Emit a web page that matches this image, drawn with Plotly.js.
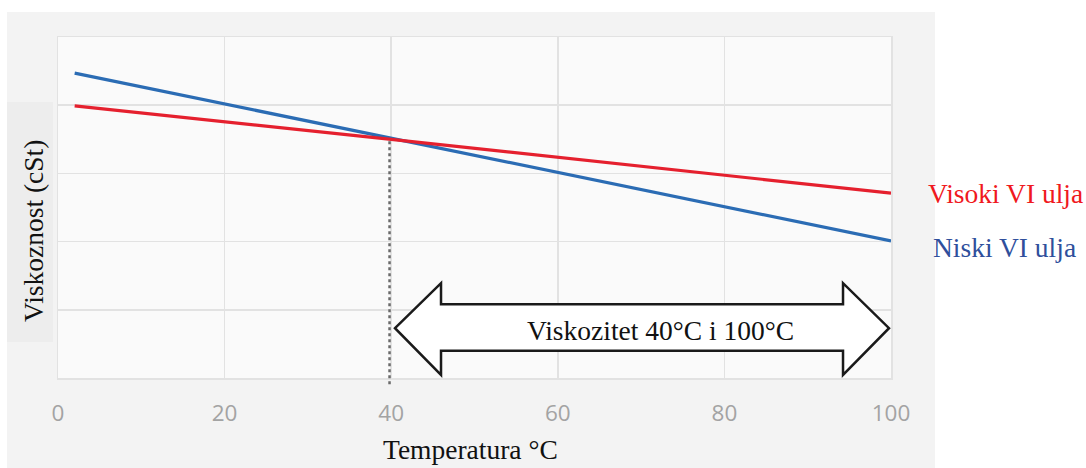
<!DOCTYPE html>
<html>
<head>
<meta charset="utf-8">
<script src="https://cdn.plot.ly/plotly-3.0.1.min.js"></script>
<style>html,body{margin:0;padding:0;background:#fff;}#chart{width:1086px;height:468px;}</style>
</head>
<body>
<div id="chart"></div>
<script>
// Data (y scale is arbitrary — no labels in source)
const temperature = [2, 40, 100];
const visokiVI = [3.99, 3.50, 2.71];   // high VI oil (red)
const niskiVI  = [4.47, 3.52, 2.01];   // low VI oil (blue)
const xTicks = [0, 20, 40, 60, 80, 100];
const xTickLabels = ['0', '20', '40', '60', '80', '100'];
const crossTemp = 40;
const crossVisc = 3.5;
const rangeLabel = 'Viskozitet 40°C i 100°C';
const seriesNames = ['Visoki VI ulja', 'Niski VI ulja'];

const serif = 'Liberation Serif, Times New Roman, serif';

const traces = [
  {x: temperature, y: niskiVI, mode: 'lines', name: seriesNames[1],
   line: {color: '#2b6cb4', width: 3.2}, hoverinfo: 'skip'},
  {x: temperature, y: visokiVI, mode: 'lines', name: seriesNames[0],
   line: {color: '#e5202e', width: 3.2}, hoverinfo: 'skip'}
];

// block double arrow in data coords
const ax = {tipL: 40.46, baseL: 45.98, baseR: 94.24, tipR: 99.76,
            mid: 0.73, headT: 1.39, headB: 0.045, shaftT: 1.08, shaftB: 0.40};
const arrowPath = `M ${ax.tipL},${ax.mid} L ${ax.baseL},${ax.headT} L ${ax.baseL},${ax.shaftT} L ${ax.baseR},${ax.shaftT} L ${ax.baseR},${ax.headT} L ${ax.tipR},${ax.mid} L ${ax.baseR},${ax.headB} L ${ax.baseR},${ax.shaftB} L ${ax.baseL},${ax.shaftB} L ${ax.baseL},${ax.headB} Z`;

const serifFont = (c) => ({family: serif, size: 27.5, color: c});
const ann = (x, y, text, color, extra) => Object.assign({
  xref: 'paper', yref: 'paper', x: x, y: y, text: text, showarrow: false,
  xanchor: 'center', yanchor: 'middle', font: serifFont(color)}, extra || {});

const layout = {
  width: 1086, height: 468,
  margin: {l: 58, r: 195, t: 37, b: 90, pad: 0},
  paper_bgcolor: '#ffffff',
  plot_bgcolor: '#fafafa',
  showlegend: false,
  xaxis: {
    range: [0, 100], tickvals: xTicks, ticktext: xTickLabels,
    showgrid: true, gridcolor: '#e2e2e2', gridwidth: 1.5, zeroline: false,
    showline: true, linecolor: '#e2e2e2', linewidth: 1.5, mirror: true,
    ticks: 'outside', ticklen: 14, tickcolor: 'rgba(0,0,0,0)',
    tickfont: {family: 'Open Sans, sans-serif', size: 22.5, color: '#a3a3a3'},
    fixedrange: true
  },
  yaxis: {
    range: [0, 5], dtick: 1, showticklabels: false,
    showgrid: true, gridcolor: '#e2e2e2', gridwidth: 1.5, zeroline: false,
    showline: true, linecolor: '#e2e2e2', linewidth: 1.5, mirror: true,
    fixedrange: true
  },
  shapes: [
    {type: 'rect', xref: 'paper', yref: 'paper', x0: -0.0612, x1: 1.0528, y0: -0.27, y1: 1.0733,
     fillcolor: '#f3f3f3', line: {width: 0}, layer: 'below'},
    {type: 'rect', xref: 'paper', yref: 'paper', x0: 0, x1: 1, y0: 0, y1: 1,
     fillcolor: '#fafafa', line: {width: 0}, layer: 'below'},
    {type: 'rect', xref: 'paper', yref: 'paper', x0: -0.0612, x1: -0.006, y0: 0.1056, y1: 0.8094,
     fillcolor: '#ededed', line: {width: 0}, layer: 'below'},
    {type: 'line', xref: 'x', yref: 'paper', x0: crossTemp - 0.2, x1: crossTemp - 0.2, y0: -0.018, y1: crossVisc / 5,
     line: {color: '#6a6a6a', width: 2.5, dash: 'dot'}},
    {type: 'path', xref: 'x', yref: 'y', path: arrowPath,
     fillcolor: '#ffffff', line: {color: '#1a1a1a', width: 2.5}}
  ],
  annotations: [
    Object.assign(ann(72.3, 0.70, rangeLabel, '#111'), {xref: 'x', yref: 'y'}),
    ann(1.137, 0.5425, seriesNames[0], '#f01820'),
    ann(1.1357, 0.384, seriesNames[1], '#2f4f9c'),
    ann(-0.030, 0.431, 'Viskoznost (cSt)', '#111', {textangle: -90}),
    ann(0.4946, -0.211, 'Temperatura °C', '#111')
  ]
};

Plotly.newPlot('chart', traces, layout, {displayModeBar: false, staticPlot: true});
</script>
</body>
</html>
